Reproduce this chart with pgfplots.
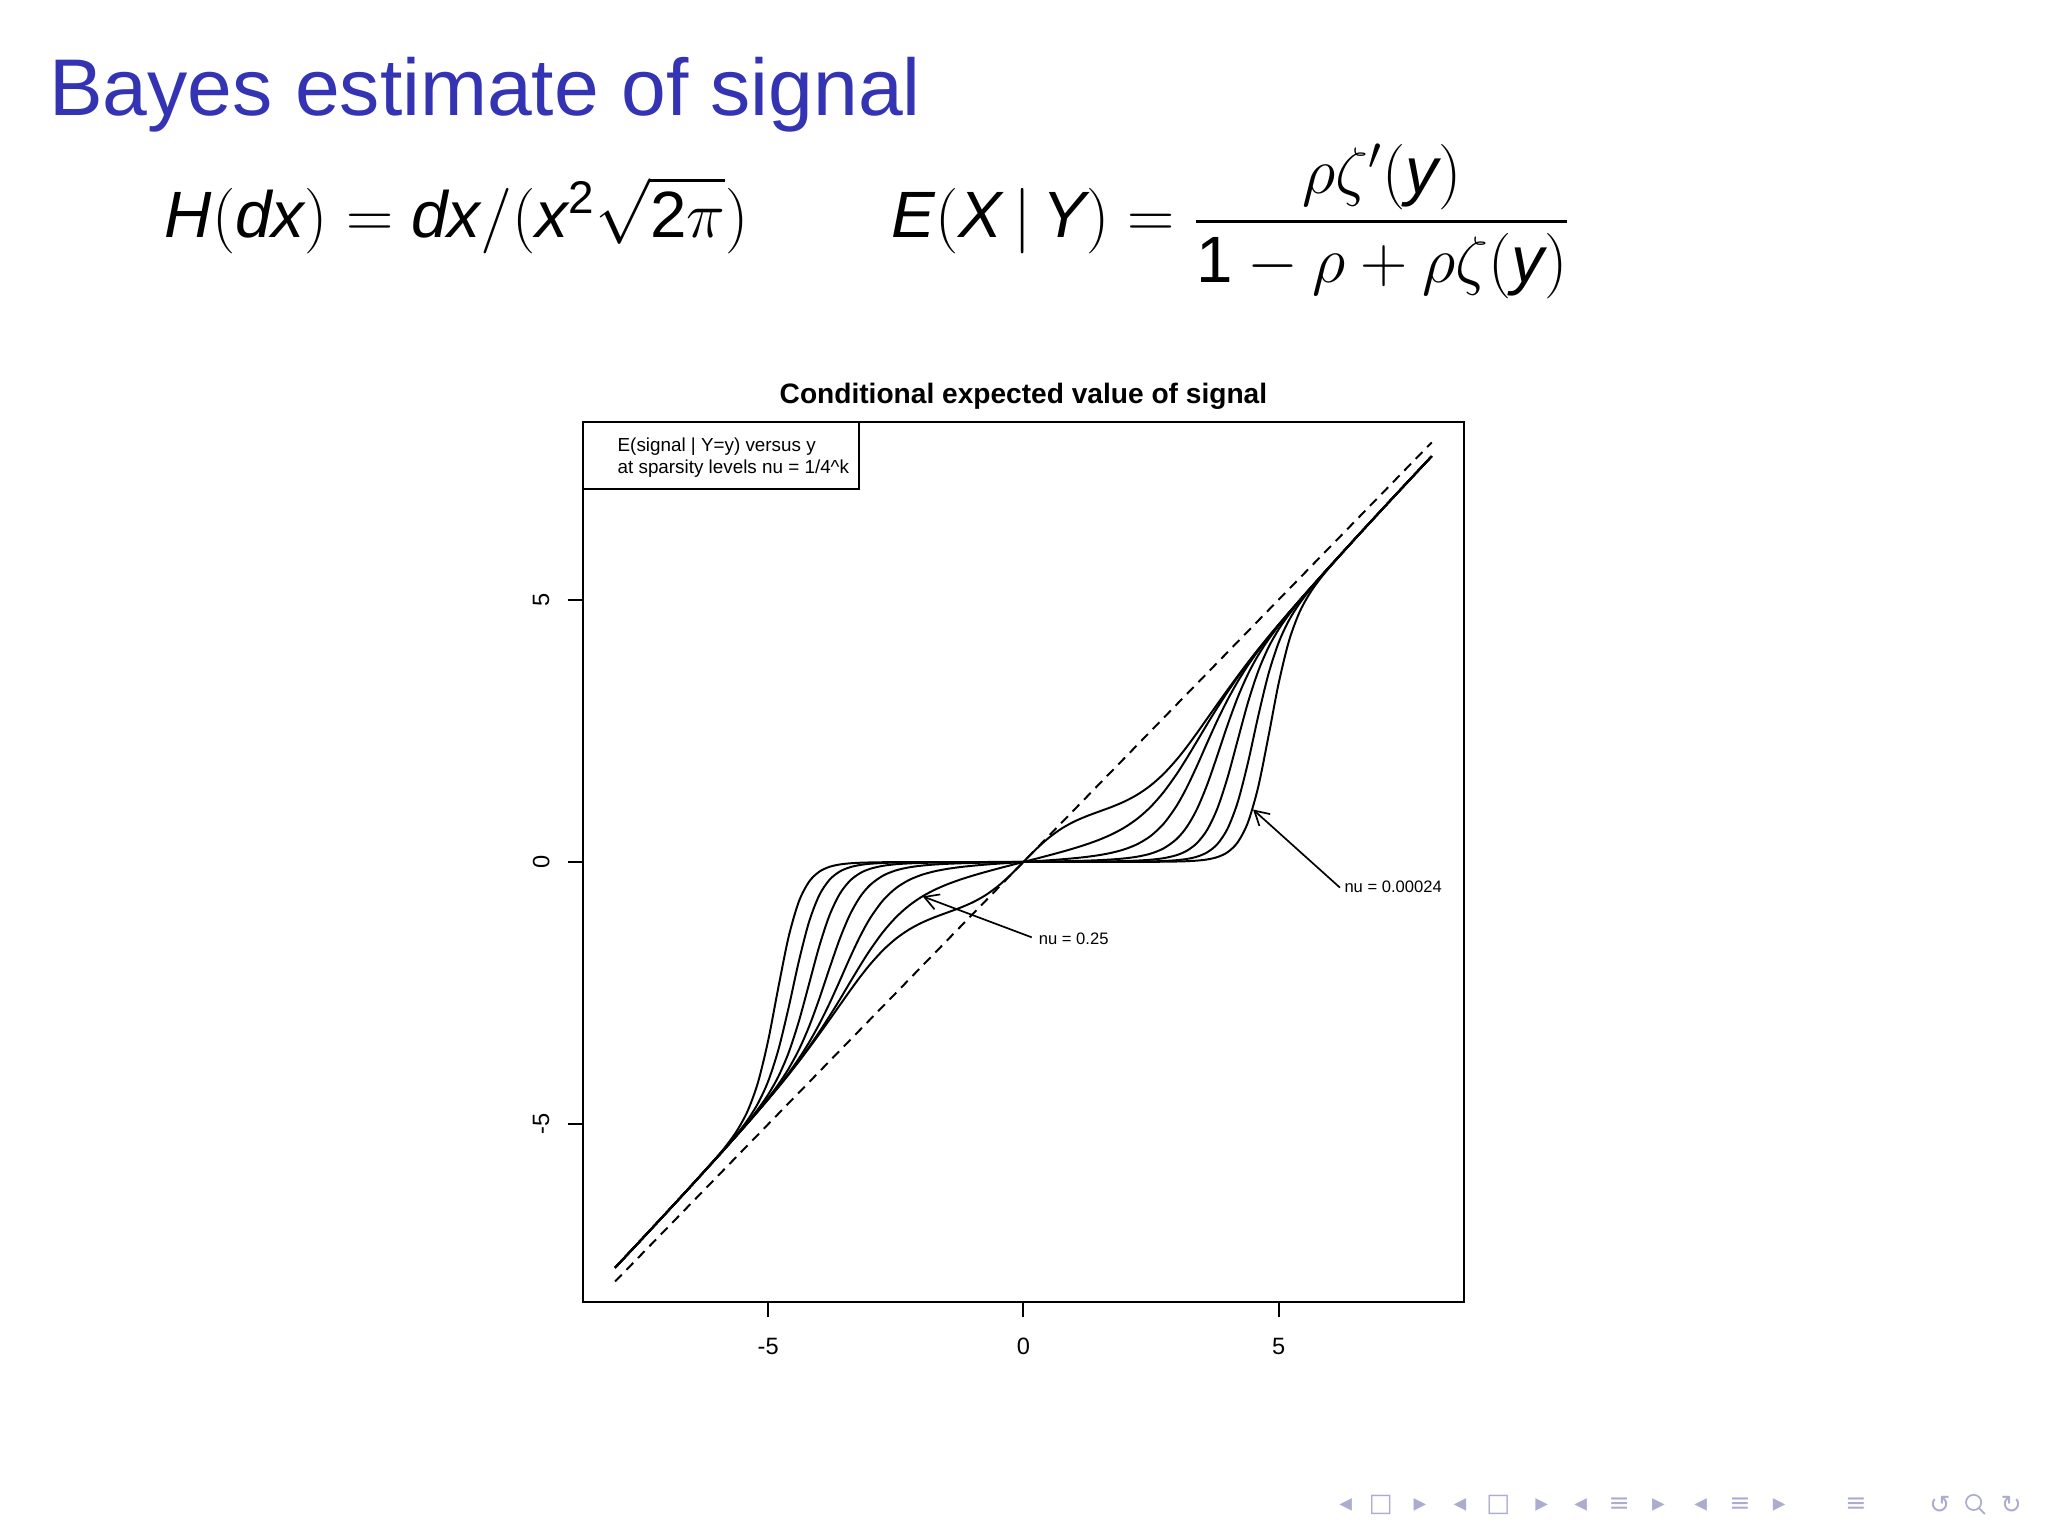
\RequirePackage{fix-cm}
\documentclass[border=0pt]{standalone}
\usepackage[no-math]{fontspec}
\usepackage{amsmath}
\usepackage{pgfplots}
\pgfplotsset{compat=1.18}
\usepackage{pgfplotstable}
\usetikzlibrary{arrows.meta}
\setmainfont{Liberation Sans}
\newfontfamily\dejavu{DejaVu Sans}
\definecolor{beamerblue}{RGB}{51,51,179}
\definecolor{navgray}{RGB}{172,172,208}
\newcommand{\sv}[1]{\textit{#1}}

% E(signal | Y=y) for nu = 1, 1/4, ..., 1/4096 (columns e0..e6)
\pgfplotstableread{
obs   e0      e1      e2      e3      e4      e5      e6
-8    -7.7367 -7.7367 -7.7367 -7.7367 -7.7367 -7.7367 -7.7367
-7.5  -7.2170 -7.2170 -7.2170 -7.2170 -7.2170 -7.2170 -7.2170
-7    -6.6937 -6.6937 -6.6937 -6.6937 -6.6937 -6.6937 -6.6937
-6.5  -6.1656 -6.1656 -6.1656 -6.1656 -6.1656 -6.1656 -6.1656
-6    -5.6311 -5.6311 -5.6311 -5.6310 -5.6304 -5.6283 -5.6197
-5.8  -5.4149 -5.4149 -5.4148 -5.4144 -5.4128 -5.4066 -5.3817
-5.6  -5.1967 -5.1967 -5.1964 -5.1953 -5.1910 -5.1736 -5.1056
-5.4  -4.9761 -4.9759 -4.9752 -4.9723 -4.9609 -4.9155 -4.7422
-5.2  -4.7526 -4.7522 -4.7504 -4.7431 -4.7143 -4.6026 -4.2040
-5    -4.5252 -4.5241 -4.5197 -4.5023 -4.4340 -4.1805 -3.4023
-4.8  -4.2926 -4.2901 -4.2801 -4.2405 -4.0895 -3.5797 -2.3886
-4.6  -4.0532 -4.0477 -4.0261 -3.9418 -3.6371 -2.7783 -1.4288
-4.4  -3.8053 -3.7941 -3.7499 -3.5831 -3.0417 -1.8960 -0.7563
-4.2  -3.5478 -3.5260 -3.4417 -3.1412 -2.3281 -1.1438 -0.3769
-4    -3.2815 -3.2419 -3.0926 -2.6117 -1.6102 -0.6354 -0.1857
-3.8  -3.0098 -2.9423 -2.7000 -2.0310 -1.0201 -0.3410 -0.0931
-3.6  -2.7346 -2.6274 -2.2711 -1.4724 -0.6118 -0.1833 -0.0482
-3.4  -2.4585 -2.3006 -1.8305 -1.0072 -0.3598 -0.1008 -0.0260
-3.2  -2.1936 -1.9776 -1.4188 -0.6660 -0.2133 -0.0574 -0.0146
-3    -1.9491 -1.6727 -1.0674 -0.4361 -0.1296 -0.0340 -0.0086
-2.75 -1.6826 -1.3355 -0.7318 -0.2606 -0.0729 -0.0188 -0.0047
-2.5  -1.4650 -1.0580 -0.5011 -0.1613 -0.0435 -0.0111 -0.0028
-2.25 -1.2943 -0.8390 -0.3485 -0.1044 -0.0275 -0.0070 -0.0017
-2    -1.1623 -0.6690 -0.2480 -0.0705 -0.0183 -0.0046 -0.0012
-1.75 -1.0576 -0.5361 -0.1804 -0.0494 -0.0126 -0.0032 -0.0008
-1.5  -0.9674 -0.4294 -0.1332 -0.0354 -0.0090 -0.0023 -0.0006
-1.25 -0.8775 -0.3404 -0.0987 -0.0257 -0.0065 -0.0016 -0.0004
-1    -0.7728 -0.2628 -0.0722 -0.0185 -0.0047 -0.0012 -0.0003
-0.75 -0.6382 -0.1925 -0.0507 -0.0129 -0.0032 -0.0008 -0.0002
-0.5  -0.4626 -0.1264 -0.0323 -0.0081 -0.0020 -0.0005 -0.0001
-0.25 -0.2449 -0.0627 -0.0158 -0.0039 -0.0010 -0.0002 -0.0001
0      0       0       0       0       0       0       0
0.25   0.2449  0.0627  0.0158  0.0039  0.0010  0.0002  0.0001
0.5    0.4626  0.1264  0.0323  0.0081  0.0020  0.0005  0.0001
0.75   0.6382  0.1925  0.0507  0.0129  0.0032  0.0008  0.0002
1      0.7728  0.2628  0.0722  0.0185  0.0047  0.0012  0.0003
1.25   0.8775  0.3404  0.0987  0.0257  0.0065  0.0016  0.0004
1.5    0.9674  0.4294  0.1332  0.0354  0.0090  0.0023  0.0006
1.75   1.0576  0.5361  0.1804  0.0494  0.0126  0.0032  0.0008
2      1.1623  0.6690  0.2480  0.0705  0.0183  0.0046  0.0012
2.25   1.2943  0.8390  0.3485  0.1044  0.0275  0.0070  0.0017
2.5    1.4650  1.0580  0.5011  0.1613  0.0435  0.0111  0.0028
2.75   1.6826  1.3355  0.7318  0.2606  0.0729  0.0188  0.0047
3      1.9491  1.6727  1.0674  0.4361  0.1296  0.0340  0.0086
3.2    2.1936  1.9776  1.4188  0.6660  0.2133  0.0574  0.0146
3.4    2.4585  2.3006  1.8305  1.0072  0.3598  0.1008  0.0260
3.6    2.7346  2.6274  2.2711  1.4724  0.6118  0.1833  0.0482
3.8    3.0098  2.9423  2.7000  2.0310  1.0201  0.3410  0.0931
4      3.2815  3.2419  3.0926  2.6117  1.6102  0.6354  0.1857
4.2    3.5478  3.5260  3.4417  3.1412  2.3281  1.1438  0.3769
4.4    3.8053  3.7941  3.7499  3.5831  3.0417  1.8960  0.7563
4.6    4.0532  4.0477  4.0261  3.9418  3.6371  2.7783  1.4288
4.8    4.2926  4.2901  4.2801  4.2405  4.0895  3.5797  2.3886
5      4.5252  4.5241  4.5197  4.5023  4.4340  4.1805  3.4023
5.2    4.7526  4.7522  4.7504  4.7431  4.7143  4.6026  4.2040
5.4    4.9761  4.9759  4.9752  4.9723  4.9609  4.9155  4.7422
5.6    5.1967  5.1967  5.1964  5.1953  5.1910  5.1736  5.1056
5.8    5.4149  5.4149  5.4148  5.4144  5.4128  5.4066  5.3817
6      5.6311  5.6311  5.6311  5.6310  5.6304  5.6283  5.6197
6.5    6.1656  6.1656  6.1656  6.1656  6.1656  6.1656  6.1656
7      6.6937  6.6937  6.6937  6.6937  6.6937  6.6937  6.6937
7.5    7.2170  7.2170  7.2170  7.2170  7.2170  7.2170  7.2170
8      7.7367  7.7367  7.7367  7.7367  7.7367  7.7367  7.7367
}\curves

\newcommand{\ticksz}{\fontsize{8.4}{10}\selectfont}
\newcommand{\legsz}{\fontsize{6.7}{8}\selectfont}
\newcommand{\annsz}{\fontsize{5.9}{7}\selectfont}
\newcommand{\formsz}{\fontsize{23.3}{28}\selectfont}

\begin{document}
\begin{tikzpicture}
\fill[white] (0,0) rectangle (256mm,192mm);

% slide title and formulas
\node[anchor=base west, inner sep=0pt, text=beamerblue, font=\fontsize{28.6}{34}\selectfont]
  at (6.1mm,177.6mm) {Bayes estimate of signal};
\node[anchor=base west, inner sep=0pt, font=\formsz]
  at (20.55mm,162.3mm) {$\sv{H}(\sv{dx}) = \sv{dx}/(\sv{x}^{\text{2}}\sqrt{\text{2}\pi})$};
\node[anchor=base west, inner sep=0pt, font=\formsz]
  at (111.4mm,162.3mm) {$\sv{E}(\sv{X}\,|\,\sv{Y}) = \dfrac{\rho\zeta'(\sv{y})}{\text{1}-\rho+\rho\zeta(\sv{y})}$};

% chart title
\node[anchor=base, inner sep=0pt, font=\fontsize{10}{12}\selectfont\bfseries]
  at (127.93mm,141.56mm) {Conditional expected value of signal};

\begin{axis}[
  at={(72.85mm,29.25mm)}, anchor=south west,
  scale only axis, width=110.15mm, height=110mm,
  xmin=-8.632, xmax=8.632, ymin=-8.39, ymax=8.39,
  xtick={-5,0,5}, ytick={-5,0,5},
  xticklabels={}, yticklabels={},
  tick align=outside, xtick pos=bottom, ytick pos=left,
  major tick length=1.9mm,
  axis line style={line width=0.7pt},
  every tick/.style={black, line width=0.7pt},
  clip=false,
]
\addplot[black, line width=0.7pt, dash pattern=on 1.2mm off 0.85mm] coordinates {(-8,-8) (8,8)};
\addplot[black, line width=0.7pt, smooth] table[x=obs, y=e0] {\curves};
\addplot[black, line width=0.7pt, smooth] table[x=obs, y=e1] {\curves};
\addplot[black, line width=0.7pt, smooth] table[x=obs, y=e2] {\curves};
\addplot[black, line width=0.7pt, smooth] table[x=obs, y=e3] {\curves};
\addplot[black, line width=0.7pt, smooth] table[x=obs, y=e4] {\curves};
\addplot[black, line width=0.7pt, smooth] table[x=obs, y=e5] {\curves};
\addplot[black, line width=0.7pt, smooth] table[x=obs, y=e6] {\curves};

% tick labels
\node[font=\ticksz] at ([yshift=-5.56mm]axis cs:-5,-8.39) {-5};
\node[font=\ticksz] at ([yshift=-5.56mm]axis cs:0,-8.39) {0};
\node[font=\ticksz] at ([yshift=-5.56mm]axis cs:5,-8.39) {5};
\node[font=\ticksz, rotate=90] at ([xshift=-5.2mm]axis cs:-8.632,-5) {-5};
\node[font=\ticksz, rotate=90] at ([xshift=-5.2mm]axis cs:-8.632,0) {0};
\node[font=\ticksz, rotate=90] at ([xshift=-5.2mm]axis cs:-8.632,5) {5};

% legend box
\draw[line width=0.7pt] (axis cs:-8.632,8.39) rectangle (axis cs:-3.227,7.109);
\node[anchor=base west, inner sep=0pt, font=\legsz] at (axis cs:-7.96,7.825) {E(signal | Y=y) versus y};
\node[anchor=base west, inner sep=0pt, font=\legsz] at (axis cs:-7.96,7.40) {at sparsity levels nu = 1/4\textasciicircum k};

% annotations
\draw[line width=0.6pt, -{Straight Barb[length=1.75mm,width=2.0mm]}] (axis cs:0.163,-1.437) -- (axis cs:-1.973,-0.656);
\node[anchor=west, inner sep=0pt, font=\annsz] at (axis cs:0.292,-1.46) {nu = 0.25};
\draw[line width=0.6pt, -{Straight Barb[length=1.75mm,width=2.0mm]}] (axis cs:6.203,-0.49) -- (axis cs:4.50,1.0);
\node[anchor=west, inner sep=0pt, font=\annsz] at (axis cs:6.28,-0.467) {nu = 0.00024};
\end{axis}

% navigation symbols
\foreach \px/\sym in {168.2/◂, 172.6/□, 177.5/▸, 182.5/◂, 187.3/□, 192.7/▸, 197.6/◂, 202.4/≡, 207.3/▸, 212.6/◂, 217.5/≡, 222.4/▸, 232.0/≡, 242.5/↺, 251.4/↻}
  \node[text=navgray, font=\dejavu\fontsize{9}{10}\selectfont, inner sep=0pt] at (\px mm,3.92mm) {\sym};
\draw[navgray, line width=0.6pt] (246.7mm,4.2mm) circle (0.95mm);
\draw[navgray, line width=0.6pt] (247.35mm,3.5mm) -- (248.1mm,2.75mm);
\end{tikzpicture}
\end{document}
